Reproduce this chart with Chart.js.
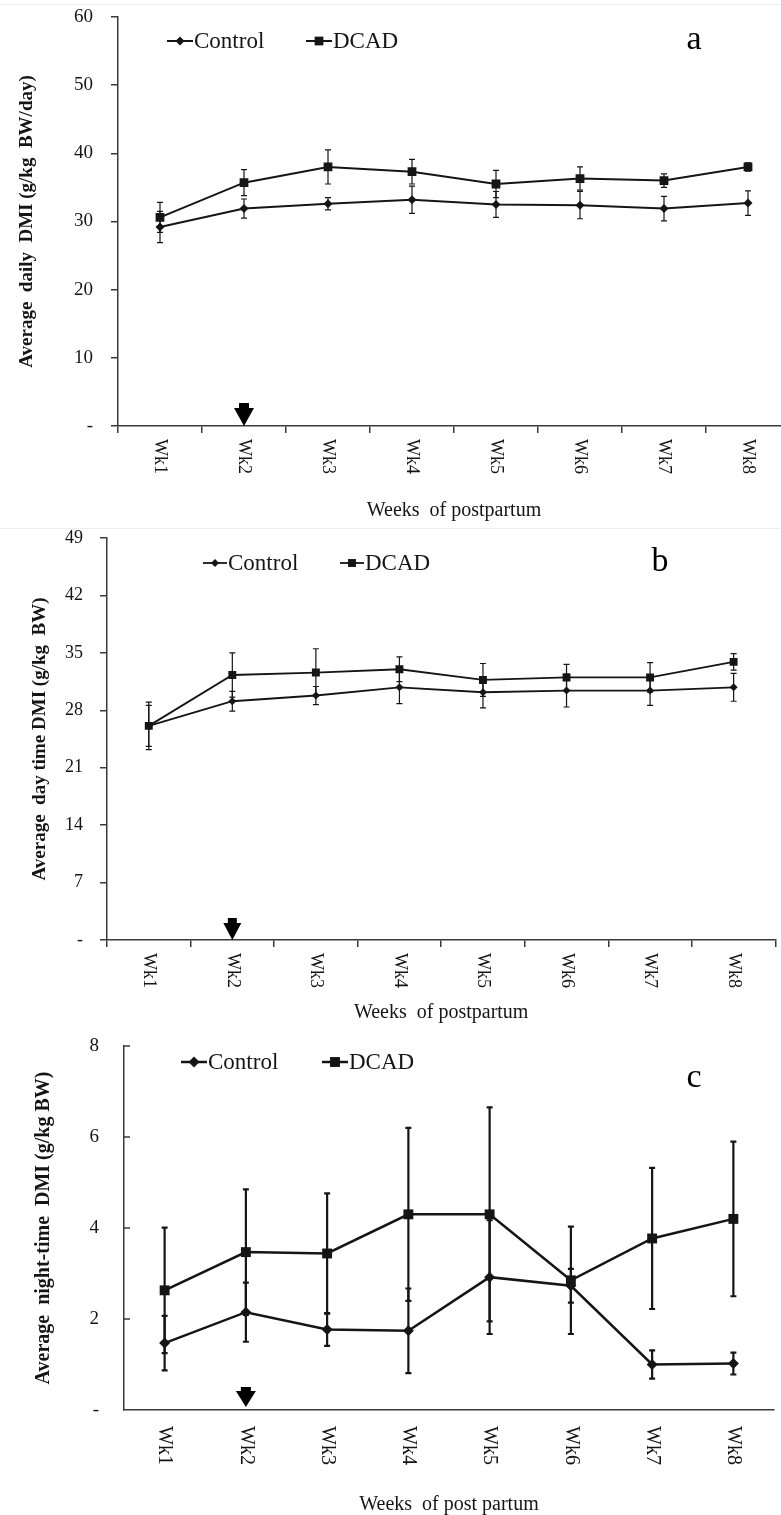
<!DOCTYPE html>
<html>
<head>
<meta charset="utf-8">
<title>DMI postpartum</title>
<script src="https://cdn.jsdelivr.net/npm/chart.js@4.4.1/dist/chart.umd.min.js"></script>
<style>
  html, body { margin: 0; padding: 0; background: #fff; overflow: hidden; }
  #page { position: relative; width: 781px; height: 1515px; overflow: hidden; }
  canvas { position: absolute; left: 0; }
  #chartA { top: 0; }
  #chartB { top: 526px; }
  #chartC { top: 1028px; }
  .rule { position: absolute; left: 0; width: 781px; height: 1px; background: #efefef; }
</style>
</head>
<body>
<div id="page">
  <div class="rule" style="top:4px"></div>
  <div class="rule" style="top:528px"></div>
  <canvas id="chartA" width="800" height="524"></canvas>
  <canvas id="chartB" width="781" height="500"></canvas>
  <canvas id="chartC" width="781" height="490"></canvas>
</div>
<script>
const weeks = ['Wk1', 'Wk2', 'Wk3', 'Wk4', 'Wk5', 'Wk6', 'Wk7', 'Wk8'];
const seriesNames = ['Control', 'DCAD'];

// a - average daily DMI
const ctrlA = [29.2, 31.9, 32.6, 33.2, 32.5, 32.4, 31.9, 32.7];
const ctrlErrA = [2.3, 1.4, 0.9, 2.0, 1.9, 2.0, 1.8, 1.8];
const dcadA = [30.6, 35.7, 38.0, 37.3, 35.5, 36.3, 36.0, 38.0];
const dcadErrA = [2.2, 1.9, 2.5, 1.8, 2.0, 1.7, 1.0, 0.6];

// b - day time DMI
const ctrlB = [26.1, 29.1, 29.8, 30.8, 30.2, 30.4, 30.4, 30.8];
const ctrlErrB = [2.5, 1.2, 1.1, 2.0, 1.9, 2.0, 1.8, 1.7];
const dcadB = [26.1, 32.3, 32.6, 33.0, 31.7, 32.0, 32.0, 33.9];
const dcadErrB = [2.9, 2.7, 2.9, 1.5, 2.0, 1.6, 1.8, 1.0];

// c - night time DMI
const ctrlC = [1.47, 2.15, 1.77, 1.74, 2.92, 2.73, 1.0, 1.02];
const ctrlErrC = [0.6, 0.65, 0.36, 0.93, 1.25, 0.37, 0.31, 0.24];
const dcadC = [2.63, 3.47, 3.44, 4.3, 4.3, 2.85, 3.77, 4.2];
const dcadErrC = [1.38, 1.38, 1.32, 1.9, 2.35, 1.18, 1.55, 1.7];

const SERIF = '"Liberation Serif", "Times New Roman", serif';
const INK = '#151515';
const AXIS = '#3a3a3a';

function drawMarker(ctx, style, x, y, r) {
  ctx.beginPath();
  if (style === 'rectRot') {
    ctx.moveTo(x, y - r);
    ctx.lineTo(x + r, y);
    ctx.lineTo(x, y + r);
    ctx.lineTo(x - r, y);
  } else {
    const s = r * Math.SQRT1_2;
    ctx.rect(x - s, y - s, s * 2, s * 2);
  }
  ctx.closePath();
  ctx.fill();
}

function drawErrorBars(chart, opts) {
  const { ctx, scales } = chart;
  ctx.save();
  ctx.strokeStyle = INK;
  ctx.lineWidth = opts.errWidth;
  chart.data.datasets.forEach((ds) => {
    ds.data.forEach((v, i) => {
      const e = ds.errorBars[i];
      const x = scales.x.getPixelForValue(i);
      const yTop = scales.y.getPixelForValue(v + e);
      const yBot = scales.y.getPixelForValue(v - e);
      ctx.beginPath();
      ctx.moveTo(x, yTop);
      ctx.lineTo(x, yBot);
      ctx.moveTo(x - opts.capHalf, yTop);
      ctx.lineTo(x + opts.capHalf, yTop);
      ctx.moveTo(x - opts.capHalf, yBot);
      ctx.lineTo(x + opts.capHalf, yBot);
      ctx.stroke();
    });
  });
  ctx.restore();
}

function drawWeekLabels(chart, opts) {
  const { ctx, scales, chartArea } = chart;
  ctx.save();
  ctx.fillStyle = INK;
  ctx.font = `${opts.weekFont}px ${SERIF}`;
  ctx.textAlign = 'left';
  ctx.textBaseline = 'middle';
  chart.data.labels.forEach((label, i) => {
    ctx.save();
    ctx.translate(scales.x.getPixelForValue(i), chartArea.bottom + opts.weekOffset);
    ctx.rotate(Math.PI / 2);
    ctx.fillText(label, 0, 0);
    ctx.restore();
  });
  ctx.restore();
}

function drawArrow(chart, opts) {
  const { ctx, scales, chartArea } = chart;
  const a = opts.arrow;
  const x = scales.x.getPixelForValue(a.index);
  const tip = chartArea.bottom - a.lift;
  ctx.save();
  ctx.fillStyle = '#000';
  ctx.beginPath();
  ctx.moveTo(x - a.w / 2, tip - a.h);
  ctx.lineTo(x + a.w / 2, tip - a.h);
  ctx.lineTo(x, tip);
  ctx.closePath();
  ctx.fill();
  ctx.fillRect(x - a.sw / 2, tip - a.h - a.sh, a.sw, a.sh + 1);
  ctx.restore();
}

function drawLegend(chart, opts) {
  const { ctx } = chart;
  const lg = opts.legend;
  ctx.save();
  ctx.font = `${lg.font}px ${SERIF}`;
  ctx.textBaseline = 'middle';
  ctx.textAlign = 'left';
  chart.data.datasets.forEach((ds, i) => {
    const x0 = lg.xs[i];
    ctx.strokeStyle = INK;
    ctx.fillStyle = INK;
    ctx.lineWidth = ds.borderWidth;
    ctx.beginPath();
    ctx.moveTo(x0, lg.y);
    ctx.lineTo(x0 + lg.len, lg.y);
    ctx.stroke();
    drawMarker(ctx, ds.pointStyle, x0 + lg.len / 2, lg.y, ds.pointRadius);
    ctx.fillText(ds.label, x0 + lg.len + 1, lg.y + 1);
  });
  ctx.restore();
}

function drawPanelLetter(chart, opts) {
  const { ctx } = chart;
  ctx.save();
  ctx.fillStyle = '#000';
  ctx.font = `34px ${SERIF}`;
  ctx.textAlign = 'center';
  ctx.textBaseline = 'middle';
  ctx.fillText(opts.letter.text, opts.letter.x, opts.letter.y);
  ctx.restore();
}

function drawInnerTicks(chart) {
  const { ctx, scales, chartArea } = chart;
  ctx.save();
  ctx.strokeStyle = AXIS;
  ctx.lineWidth = 1.5;
  scales.y.ticks.forEach((t) => {
    if (t.value === 0) return;
    const y = scales.y.getPixelForValue(t.value);
    ctx.beginPath();
    ctx.moveTo(chartArea.left, y);
    ctx.lineTo(chartArea.left + 6, y);
    ctx.stroke();
  });
  ctx.restore();
}

const decorPlugin = {
  id: 'decor',
  beforeDatasetsDraw(chart, args, opts) {
    drawErrorBars(chart, opts);
  },
  afterDraw(chart, args, opts) {
    drawWeekLabels(chart, opts);
    drawArrow(chart, opts);
    drawLegend(chart, opts);
    drawPanelLetter(chart, opts);
    if (opts.innerTicks) drawInnerTicks(chart);
  },
};

function buildPanel(id, cfg) {
  const datasets = [
    {
      label: seriesNames[0],
      data: cfg.ctrl,
      errorBars: cfg.ctrlErr,
      pointStyle: 'rectRot',
      pointRadius: cfg.diamondR,
    },
    {
      label: seriesNames[1],
      data: cfg.dcad,
      errorBars: cfg.dcadErr,
      pointStyle: 'rect',
      pointRadius: cfg.squareR,
    },
  ].map((ds) => ({
    ...ds,
    borderColor: INK,
    backgroundColor: INK,
    pointBackgroundColor: INK,
    pointBorderColor: INK,
    pointBorderWidth: 0,
    borderWidth: cfg.lineW,
    tension: 0,
    fill: false,
  }));

  return new Chart(document.getElementById(id), {
    type: 'line',
    data: { labels: weeks, datasets },
    options: {
      responsive: false,
      animation: false,
      layout: { padding: cfg.padding },
      plugins: {
        legend: { display: false },
        tooltip: { enabled: false },
        decor: cfg.decor,
      },
      scales: {
        x: {
          type: 'category',
          offset: true,
          grid: {
            display: true,
            offset: true,
            drawOnChartArea: false,
            drawTicks: cfg.xTicks,
            tickLength: 7,
            color: AXIS,
            lineWidth: 1.5,
          },
          border: { display: true, color: AXIS, width: 1.5 },
          ticks: { display: false },
          title: {
            display: true,
            text: cfg.xTitle,
            color: INK,
            font: { family: SERIF, size: 20 },
            padding: { top: 0, bottom: 1 },
          },
          afterFit: (scale) => {
            scale.height = cfg.xHeight;
          },
        },
        y: {
          min: 0,
          max: cfg.yMax,
          ticks: {
            stepSize: cfg.yStep,
            padding: cfg.tickPad,
            color: INK,
            font: { family: SERIF, size: cfg.tickSize },
            callback: (v) => (v === 0 ? '-' : v),
          },
          grid: {
            display: true,
            drawOnChartArea: false,
            drawTicks: !cfg.decor.innerTicks,
            tickLength: 7,
            color: AXIS,
            lineWidth: 1.5,
          },
          border: { display: true, color: AXIS, width: 1.5 },
          title: {
            display: true,
            text: cfg.yTitle,
            color: INK,
            font: { family: SERIF, size: cfg.yTitleSize, weight: 'bold' },
            padding: { top: cfg.yTitlePad, bottom: 0 },
          },
          afterFit: (scale) => {
            // label padding would otherwise push the plot area down
            scale.width = cfg.yWidth;
            scale.paddingTop = 0;
            scale.paddingBottom = 0;
          },
        },
      },
    },
    plugins: [decorPlugin],
  });
}

buildPanel('chartA', {
  ctrl: ctrlA, ctrlErr: ctrlErrA, dcad: dcadA, dcadErr: dcadErrA,
  yMax: 60, yStep: 10, tickSize: 19, tickPad: 18,
  yTitle: 'Average  daily  DMI (g/kg  BW/day)', yTitleSize: 19, yTitlePad: 16,
  xTitle: 'Weeks  of postpartum', xTicks: true,
  padding: { top: 17, left: 0, right: 10, bottom: 0 },
  yWidth: 118, xHeight: 98,
  lineW: 2, diamondR: 4.5, squareR: 6.2,
  decor: {
    errWidth: 1.2, capHalf: 3, weekFont: 18, weekOffset: 13,
    arrow: { index: 1, w: 20, h: 18, sw: 10, sh: 5, lift: 0 },
    legend: { y: 41, xs: [167, 306], len: 26, font: 23 },
    letter: { text: 'a', x: 694, y: 40 },
    innerTicks: false,
  },
});

buildPanel('chartB', {
  ctrl: ctrlB, ctrlErr: ctrlErrB, dcad: dcadB, dcadErr: dcadErrB,
  yMax: 49, yStep: 7, tickSize: 18, tickPad: 17,
  yTitle: 'Average  day time DMI (g/kg  BW)', yTitleSize: 19, yTitlePad: 29,
  xTitle: 'Weeks  of postpartum', xTicks: true,
  padding: { top: 12, left: 0, right: 2, bottom: 0 },
  yWidth: 107, xHeight: 86,
  lineW: 1.8, diamondR: 4, squareR: 5.6,
  decor: {
    errWidth: 1.2, capHalf: 3, weekFont: 18, weekOffset: 13,
    arrow: { index: 1, w: 18, h: 17, sw: 9, sh: 5, lift: 0 },
    legend: { y: 37, xs: [203, 340], len: 24, font: 23 },
    letter: { text: 'b', x: 660, y: 36 },
    innerTicks: false,
  },
});

buildPanel('chartC', {
  ctrl: ctrlC, ctrlErr: ctrlErrC, dcad: dcadC, dcadErr: dcadErrC,
  yMax: 8, yStep: 2, tickSize: 19, tickPad: 25,
  yTitle: 'Average  night-time  DMI (g/kg BW)', yTitleSize: 20, yTitlePad: 32,
  xTitle: 'Weeks  of post partum', xTicks: false,
  padding: { top: 18, left: 0, right: 1, bottom: 0 },
  yWidth: 124, xHeight: 108,
  lineW: 2.5, diamondR: 5.5, squareR: 7,
  decor: {
    errWidth: 2.2, capHalf: 3, weekFont: 20, weekOffset: 16,
    arrow: { index: 1, w: 20, h: 16, sw: 10, sh: 4, lift: 3 },
    legend: { y: 34, xs: [181, 322], len: 26, font: 23 },
    letter: { text: 'c', x: 694, y: 50 },
    innerTicks: true,
  },
});
</script>
</body>
</html>
